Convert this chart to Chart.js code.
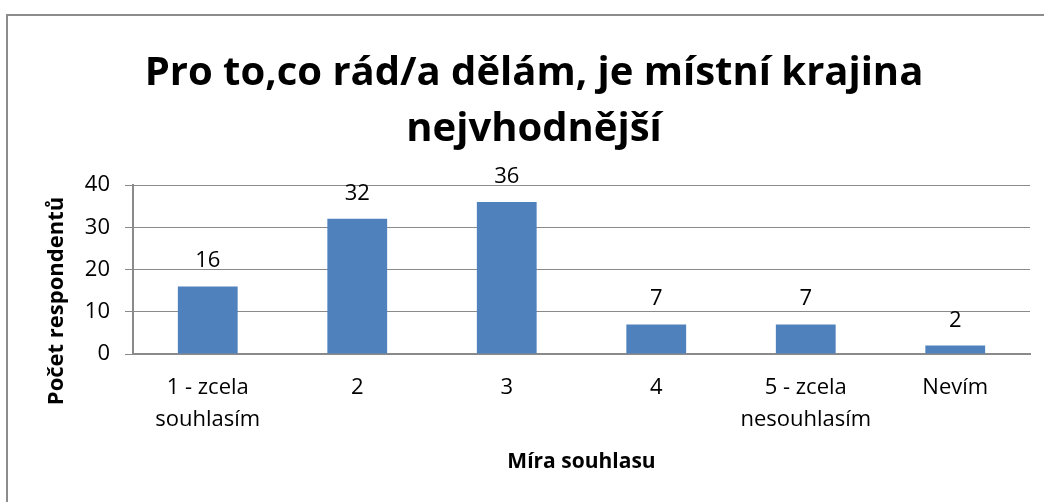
<!DOCTYPE html>
<html>
<head>
<meta charset="utf-8">
<script src="https://cdn.jsdelivr.net/npm/chart.js@4/dist/chart.umd.min.js"></script>
<style>
  html, body { margin: 0; padding: 0; background: #fff; }
  #wrap { width: 1044px; height: 502px; position: relative; }
</style>
</head>
<body>
<div id="wrap"><canvas id="chartSouhlas" width="1044" height="502"></canvas></div>
<script>
// data
const categories = [['1 - zcela', 'souhlasím'], '2', '3', '4', ['5 - zcela', 'nesouhlasím'], 'Nevím'];
const values = [16, 32, 36, 7, 7, 2];
const yTicks = [0, 10, 20, 30, 40];

const chartTitle = ['Pro to,co rád/a dělám, je místní krajina', 'nejvhodnější'];
const xTitle = 'Míra souhlasu';
const yTitle = 'Počet respondentů';

const FONT = '"Open Sans", "Noto Sans", sans-serif';
const GRID = '#8a8a8a';

// frame, value labels and rotated y title
const extras = {
    id: 'extras',
    beforeDraw(chart) {
        const ctx = chart.ctx;
        ctx.save();
        ctx.strokeStyle = '#8c8c8c';
        ctx.lineWidth = 2;
        ctx.strokeRect(7, 15, 1100, 600);
        ctx.restore();
    },
    afterDatasetsDraw(chart) {
        const ctx = chart.ctx;
        const meta = chart.getDatasetMeta(0);
        ctx.save();
        ctx.fillStyle = '#000';
        ctx.font = '22px ' + FONT;
        ctx.textAlign = 'center';
        ctx.textBaseline = 'alphabetic';
        meta.data.forEach(function(bar, i) {
            ctx.fillText(String(values[i]), bar.x, bar.y - 19);
        });
        // y axis title
        const area = chart.chartArea;
        ctx.translate(57, area.bottom - 53);
        ctx.rotate(-Math.PI / 2);
        ctx.font = 'bold 22px ' + FONT;
        ctx.textBaseline = 'middle';
        ctx.fillText(yTitle, 0, 0);
        ctx.restore();
    }
};

const ctx = document.getElementById('chartSouhlas');
new Chart(ctx, {
    type: 'bar',
    data: {
        labels: categories,
        datasets: [{
            data: values,
            backgroundColor: '#4f81bd',
            borderWidth: 0,
            categoryPercentage: 1,
            barPercentage: 0.4
        }]
    },
    options: {
        responsive: false,
        animation: false,
        layout: { padding: { left: 38, right: 14, top: 0, bottom: 0 } },
        plugins: {
            legend: { display: false },
            tooltip: { enabled: false },
            title: {
                display: true,
                text: chartTitle,
                color: '#000',
                font: { family: FONT, size: 40, weight: 'bold', lineHeight: 56 / 40 },
                padding: { top: 46, bottom: 27 }
            }
        },
        scales: {
            x: {
                afterFit(scale) { scale.height = 148; },
                grid: { display: true, drawOnChartArea: false, drawTicks: false, color: GRID },
                border: { display: true, color: GRID, width: 2 },
                ticks: {
                    color: '#000',
                    padding: 18,
                    maxRotation: 0,
                    font: { family: FONT, size: 22, lineHeight: 32 / 22 }
                },
                title: {
                    display: true,
                    text: xTitle,
                    color: '#000',
                    font: { family: FONT, size: 21, weight: 'bold', lineHeight: 1.2 },
                    padding: { top: 0, bottom: 27 }
                }
            },
            y: {
                min: 0,
                max: 40,
                afterFit(scale) { scale.width = 95; },
                afterBuildTicks(scale) { scale.ticks = yTicks.map(v => ({ value: v })); },
                grid: { color: GRID, lineWidth: 1, tickLength: 8 },
                border: { display: true, color: GRID, width: 2 },
                ticks: {
                    color: '#000',
                    padding: 15,
                    font: { family: FONT, size: 22 }
                }
            }
        }
    },
    plugins: [extras]
});
</script>
</body>
</html>
